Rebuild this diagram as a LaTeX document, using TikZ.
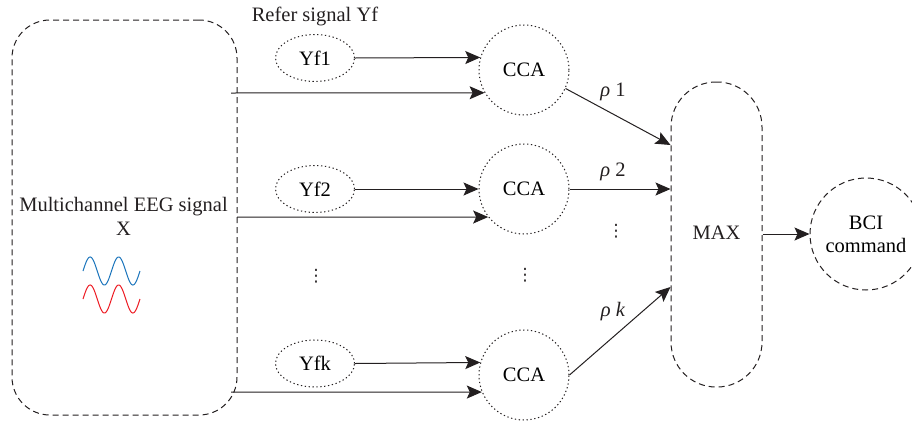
\documentclass[tikz,border=0pt]{standalone}
\usepackage{fontspec}
\setmainfont{Liberation Serif}
\newfontfamily\symfont{DejaVu Sans}
\usetikzlibrary{arrows.meta,shapes.geometric,calc}
\definecolor{ink}{HTML}{231F20}
\definecolor{waveblue}{HTML}{1C75BC}
\definecolor{wavered}{HTML}{ED1C24}
\tikzset{
  dashbox/.style={draw=ink, line width=1pt, dash pattern=on 6pt off 4pt},
  dotbox/.style={draw=ink, line width=1pt, dash pattern=on 1.3pt off 2.6pt},
  yfnode/.style={dotbox, ellipse, minimum width=79pt, minimum height=47pt, inner sep=0pt},
  ccanode/.style={dotbox, circle, minimum size=90pt, inner sep=0pt},
  conn/.style={draw=ink, line width=1pt, -{Stealth[length=15pt,width=13pt,inset=3pt]}},
  lbl/.style={text=ink, inner sep=0pt},
  vdot/.style={text=ink, inner sep=0pt, font=\symfont\fontsize{17}{17}\selectfont},
}
\begin{document}
\begin{tikzpicture}[x=1pt,y=1pt,font=\fontsize{20.5}{24}\selectfont]
\useasboundingbox (0,0) rectangle (912,-421);
% big EEG box
\node[dashbox, rectangle, rounded corners=38pt, minimum width=225pt, minimum height=395pt, inner sep=0pt] (eeg) at (124.5,-217.5) {};
\node[lbl, align=center] (eegtxt) at (123.5,-216) {Multichannel EEG signal\\X};
\draw[waveblue, line width=1pt] plot[domain=0:12.566, samples=80] ({83+\x*57/12.566}, {-271+14*sin(\x r)});
\draw[wavered, line width=1pt] plot[domain=0:12.566, samples=80] ({83+\x*57/12.566}, {-299+14*sin(\x r)});
% reference label
\node[lbl] (reftxt) at (315,-16) {Refer signal Yf};
% Yf nodes
\node[yfnode] (yf1) at (315,-58) {Yf1};
\node[yfnode] (yf2) at (315,-189) {Yf2};
\node[yfnode] (yfk) at (315,-363.5) {Yfk};
% CCA nodes
\node[ccanode] (cca1) at (524,-70) {CCA};
\node[ccanode] (cca2) at (524,-189) {CCA};
\node[ccanode] (ccak) at (524,-375) {CCA};
% MAX
\node[dashbox, rectangle, rounded corners=45pt, minimum width=91pt, minimum height=305pt, inner sep=0pt] (max) at (716.5,-234.5) {};
\node[lbl] (maxtxt) at (716.5,-233) {MAX};
% BCI
\node[dashbox, circle, minimum size=112pt, inner sep=0pt, align=center, font=\fontsize{20.5}{23}\selectfont] (bci) at (866,-234) {BCI\\command};
% dots
\node[vdot] (d1) at (316,-276) {⋮};
\node[vdot] (d2) at (525,-275) {⋮};
\node[vdot] (d3) at (616,-231) {⋮};
% EEG outputs
\coordinate (x1) at (231,-93);
\coordinate (x2) at (237,-217);
\coordinate (x3) at (231,-392);
% connectors
\draw[conn] (yf1.east) -- (cca1.164.5);
\draw[conn] (x1) -- (cca1.210.7);
\draw[conn] (yf2.east) -- (cca2.west);
\draw[conn] (x2) -- (cca2.218.5);
\draw[conn] (yfk.east) -- (ccak.164.5);
\draw[conn] (x3) -- (ccak.202.2);
\draw[conn] (cca1.-24) -- ($(max.west)+(0,89.5)$);
\draw[conn] (cca2.east) -- (max.west |- cca2);
\draw[conn] (ccak.east) -- ($(max.west)+(0,-52.5)$);
\draw[conn] (max.east |- bci) -- (bci.west);
% rho labels
\node[lbl] (r1) at (613,-92) {{\itshape ρ} 1};
\node[lbl] (r2) at (613,-172) {{\itshape ρ} 2};
\node[lbl] (rk) at (613,-312) {{\itshape ρ k}};
\end{tikzpicture}
\end{document}
